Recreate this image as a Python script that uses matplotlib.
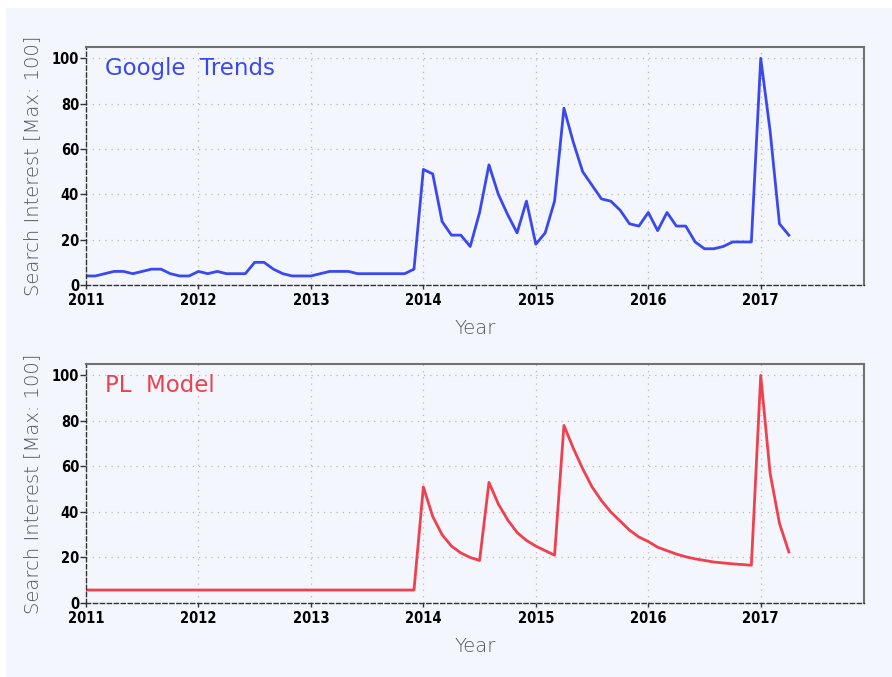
import matplotlib

matplotlib.use("Agg")
import matplotlib.pyplot as plt
from matplotlib.patches import Rectangle
import numpy as np

# monthly values, Jan 2011 .. Apr 2017
start_year = 2011
trends = [
    4, 4, 5, 6, 6, 5, 6, 7, 7, 5, 4, 4,          # 2011
    6, 5, 6, 5, 5, 5, 10, 10, 7, 5, 4, 4,        # 2012
    4, 5, 6, 6, 6, 5, 5, 5, 5, 5, 5, 7,          # 2013
    51, 49, 28, 22, 22, 17, 32, 53, 40, 31, 23, 37,   # 2014
    18, 23, 37, 78, 63, 50, 44, 38, 37, 33, 27, 26,   # 2015
    32, 24, 32, 26, 26, 19, 16, 16, 17, 19, 19, 19,   # 2016
    100, 68, 27, 22,                                   # 2017
]
pl_model = [5.7] * 36 + [
    51, 38, 30, 25, 22, 20, 18.7, 53, 43.5, 36.5, 31, 27.5,      # 2014
    25, 23, 21, 78, 68, 59, 51, 45, 40, 36, 32, 29,              # 2015
    27, 24.5, 23, 21.5, 20.3, 19.4, 18.7, 18, 17.6, 17.2, 16.9, 16.6,  # 2016
    100, 57, 35, 22.4,                                            # 2017
]
year_ticks = list(range(2011, 2018))
y_ticks = [0, 20, 40, 60, 80, 100]

BLUE = "#3a48f0"
RED = "#f0404e"
PANEL = "#f4f6fd"


def style_axis(ax, x, values, color, name):
    ax.set_facecolor(PANEL)
    ax.plot(x, values, color=color, lw=2)
    ax.set_xlim(2011, 2018 - 1 / 12)
    ax.set_ylim(0, 105)
    ax.set_xticks(year_ticks)
    ax.set_yticks(y_ticks)
    ax.grid(True, ls=(0, (1, 4)), color="#b8b8b8", lw=0.9)
    for side in ["top", "right"]:
        ax.spines[side].set_color("#707070")
        ax.spines[side].set_linewidth(1.5)
    for side in ["left", "bottom"]:
        ax.spines[side].set_color("#333333")
        ax.spines[side].set_linestyle((0, (3, 2)))
        ax.spines[side].set_linewidth(1.0)
    ax.tick_params(axis="y", direction="out", length=4, width=1,
                   color="#333333", pad=1)
    ax.tick_params(axis="x", direction="out", length=3, width=1,
                   color="#333333", pad=3)
    for lab in ax.get_xticklabels() + ax.get_yticklabels():
        lab.set_family("DejaVu Sans")
        lab.set_fontstretch("condensed")
        lab.set_fontweight("bold")
        lab.set_fontsize(10.5)
    ax.set_xlabel("Year", family="DejaVu Sans", fontweight="light", fontsize=14,
                  color="#555555", labelpad=8)
    ax.set_ylabel("Search Interest [Max: 100]", family="DejaVu Sans",
                  fontweight="light", fontsize=14, color="#555555", labelpad=7)
    ax.text(0.025, 0.96, name, transform=ax.transAxes, color=color,
            fontsize=16.5, family="DejaVu Sans", va="top", ha="left")


fig = plt.figure(figsize=(8.92, 6.77), dpi=100)
fig.patch.set_facecolor("white")
fig.patches.append(Rectangle((6 / 892, 0), 1, 1 - 8 / 677, transform=fig.transFigure,
                             facecolor=PANEL, edgecolor="none", zorder=-10))

x_tr = start_year + np.arange(len(trends)) / 12
x_pl = start_year + np.arange(len(pl_model)) / 12

ax1 = fig.add_axes([0.0964, 0.579, 0.872, 0.3516])
ax2 = fig.add_axes([0.0964, 0.1093, 0.872, 0.353])
style_axis(ax1, x_tr, trends, BLUE, "Google  Trends")
style_axis(ax2, x_pl, pl_model, RED, "PL  Model")

fig.savefig("out.png", dpi=100, facecolor=fig.get_facecolor())
